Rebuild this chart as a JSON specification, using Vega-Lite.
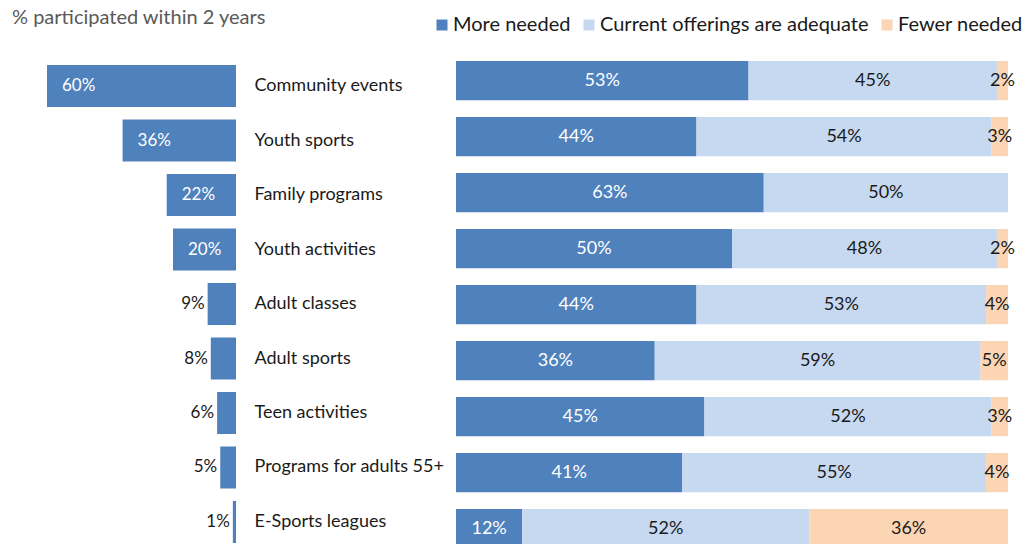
{
  "$schema": "https://vega.github.io/schema/vega-lite/v6.json",
  "padding": {"left": 0, "top": 8, "right": 0, "bottom": 0},
  "background": "white",
  "config": {
    "view": {"stroke": null},
    "font": "Lato",
    "text": {"font": "Lato"}
  },
  "datasets": {
    "participation": [
      {"activity": "Community events", "pct": 0.60},
      {"activity": "Youth sports", "pct": 0.36},
      {"activity": "Family programs", "pct": 0.22},
      {"activity": "Youth activities", "pct": 0.20},
      {"activity": "Adult classes", "pct": 0.09},
      {"activity": "Adult sports", "pct": 0.08},
      {"activity": "Teen activities", "pct": 0.06},
      {"activity": "Programs for adults 55+", "pct": 0.05},
      {"activity": "E-Sports leagues", "pct": 0.01}
    ],
    "opinion": [
      {"activity": "Community events", "response": "More needed", "share": 0.53},
      {"activity": "Community events", "response": "Current offerings are adequate", "share": 0.45},
      {"activity": "Community events", "response": "Fewer needed", "share": 0.02},
      {"activity": "Youth sports", "response": "More needed", "share": 0.44},
      {"activity": "Youth sports", "response": "Current offerings are adequate", "share": 0.54},
      {"activity": "Youth sports", "response": "Fewer needed", "share": 0.03},
      {"activity": "Family programs", "response": "More needed", "share": 0.63},
      {"activity": "Family programs", "response": "Current offerings are adequate", "share": 0.50},
      {"activity": "Youth activities", "response": "More needed", "share": 0.50},
      {"activity": "Youth activities", "response": "Current offerings are adequate", "share": 0.48},
      {"activity": "Youth activities", "response": "Fewer needed", "share": 0.02},
      {"activity": "Adult classes", "response": "More needed", "share": 0.44},
      {"activity": "Adult classes", "response": "Current offerings are adequate", "share": 0.53},
      {"activity": "Adult classes", "response": "Fewer needed", "share": 0.04},
      {"activity": "Adult sports", "response": "More needed", "share": 0.36},
      {"activity": "Adult sports", "response": "Current offerings are adequate", "share": 0.59},
      {"activity": "Adult sports", "response": "Fewer needed", "share": 0.05},
      {"activity": "Teen activities", "response": "More needed", "share": 0.45},
      {"activity": "Teen activities", "response": "Current offerings are adequate", "share": 0.52},
      {"activity": "Teen activities", "response": "Fewer needed", "share": 0.03},
      {"activity": "Programs for adults 55+", "response": "More needed", "share": 0.41},
      {"activity": "Programs for adults 55+", "response": "Current offerings are adequate", "share": 0.55},
      {"activity": "Programs for adults 55+", "response": "Fewer needed", "share": 0.04},
      {"activity": "E-Sports leagues", "response": "More needed", "share": 0.12},
      {"activity": "E-Sports leagues", "response": "Current offerings are adequate", "share": 0.52},
      {"activity": "E-Sports leagues", "response": "Fewer needed", "share": 0.36}
    ]
  },
  "spacing": 220,
  "bounds": "flush",
  "hconcat": [
    {
      "width": 236,
      "height": 483,
      "title": {
        "text": "% participated within 2 years",
        "anchor": "start",
        "frame": "group",
        "dx": 12,
        "fontSize": 20,
        "fontWeight": "normal",
        "color": "#595959",
        "offset": 33
      },
      "data": {"name": "participation"},
      "encoding": {
        "y": {
          "field": "activity",
          "type": "nominal",
          "sort": null,
          "title": null,
          "scale": {"paddingInner": 0.229, "paddingOuter": 0.046, "align": 0.8},
          "axis": {
            "orient": "right",
            "ticks": false,
            "domain": false,
            "labelPadding": 18,
            "labelAlign": "left",
            "labelFont": "Lato",
            "labelFontSize": 18,
            "labelColor": "#1a1a1a",
            "labelLimit": 300
          }
        },
        "x": {
          "field": "pct",
          "type": "quantitative",
          "axis": null,
          "scale": {"domain": [0, 0.7492], "reverse": true}
        }
      },
      "layer": [
        {"mark": {"type": "bar", "color": "#4F81BD"}},
        {
          "transform": [{"filter": "datum.pct >= 0.2"}],
          "mark": {"type": "text", "align": "left", "dx": 15, "fontSize": 17, "color": "white"},
          "encoding": {"text": {"field": "pct", "type": "quantitative", "format": ".0%"}}
        },
        {
          "transform": [{"filter": "datum.pct < 0.2"}],
          "mark": {"type": "text", "align": "right", "dx": -3, "fontSize": 17, "color": "#1a1a1a"},
          "encoding": {"text": {"field": "pct", "type": "quantitative", "format": ".0%"}}
        }
      ]
    },
    {
      "width": 552,
      "height": 483,
      "data": {"name": "opinion"},
      "transform": [
        {"window": [{"op": "row_number", "as": "rank"}], "groupby": ["activity"]}
      ],
      "encoding": {
        "y": {
          "field": "activity",
          "type": "nominal",
          "sort": null,
          "axis": null,
          "scale": {"range": [0, 487.2], "paddingInner": 0.3, "paddingOuter": 0}
        },
        "x": {
          "field": "share",
          "type": "quantitative",
          "stack": "normalize",
          "axis": null
        },
        "order": {"field": "rank", "type": "quantitative", "sort": "ascending"},
        "color": {
          "field": "response",
          "type": "nominal",
          "scale": {
            "domain": ["More needed", "Current offerings are adequate", "Fewer needed"],
            "range": ["#4F81BD", "#C6D9F1", "#FCD5B5"]
          },
          "legend": {
            "title": null,
            "orient": "none",
            "direction": "horizontal",
            "legendX": 432,
            "legendY": -46,
            "padding": 0,
            "symbolType": "square",
            "symbolSize": 121,
            "symbolStrokeWidth": 0,
            "symbolOpacity": 1,
            "labelFont": "Lato",
            "labelFontSize": 20,
            "labelColor": "#1a1a1a",
            "labelOffset": 1,
            "columnPadding": 8,
            "labelLimit": 400
          }
        }
      },
      "layer": [
        {"mark": {"type": "bar", "clip": true}},
        {
          "mark": {"type": "text", "fontSize": 18},
          "encoding": {
            "x": {"field": "share", "type": "quantitative", "stack": "normalize", "bandPosition": 0.5},
            "text": {"field": "share", "type": "quantitative", "format": ".0%"},
            "color": {
              "condition": {"test": "datum.response === 'More needed'", "value": "white"},
              "value": "#1a1a1a"
            }
          }
        }
      ]
    }
  ]
}
